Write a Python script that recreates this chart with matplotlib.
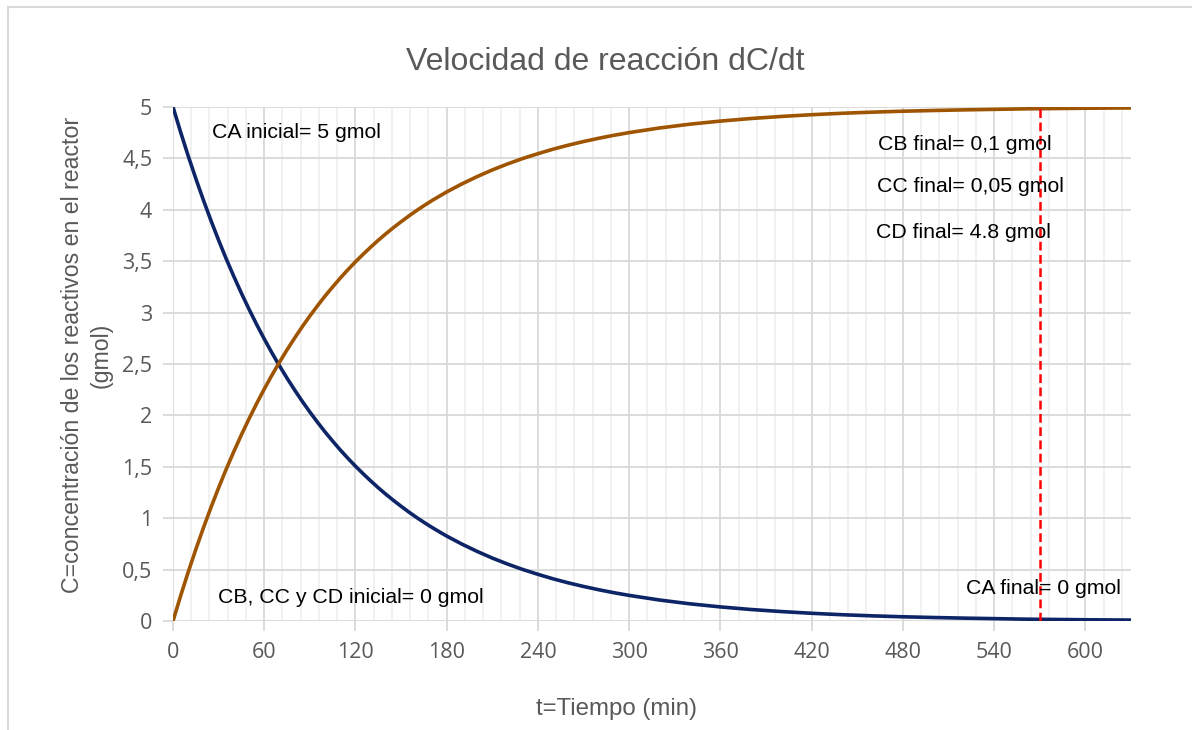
import matplotlib
matplotlib.use("Agg")
import matplotlib.pyplot as plt
from matplotlib.lines import Line2D
from matplotlib.ticker import MultipleLocator, FuncFormatter

# time (min) and concentrations
t_min = [0, 5, 10, 15, 20, 25, 30, 35, 40, 45, 50, 55, 60, 65, 70, 75, 80, 85,
         90, 95, 100, 105, 110, 115, 120, 125, 130, 135, 140, 145, 150, 155,
         160, 165, 170, 175, 180, 190, 200, 210, 220, 230, 240, 250, 260, 270,
         280, 290, 300, 320, 340, 360, 380, 400, 420, 440, 460, 480, 500, 520,
         540, 560, 580, 600, 630]
ca = [5.000, 4.756, 4.524, 4.304, 4.094, 3.894, 3.704, 3.523, 3.352, 3.188,
      3.033, 2.885, 2.744, 2.610, 2.483, 2.362, 2.247, 2.137, 2.033, 1.934,
      1.839, 1.750, 1.664, 1.583, 1.506, 1.433, 1.363, 1.296, 1.233, 1.173,
      1.116, 1.061, 1.009, 0.960, 0.913, 0.869, 0.826, 0.748, 0.677, 0.612,
      0.554, 0.501, 0.454, 0.410, 0.371, 0.336, 0.304, 0.275, 0.249, 0.204,
      0.167, 0.137, 0.112, 0.092, 0.075, 0.061, 0.050, 0.041, 0.034, 0.028,
      0.023, 0.018, 0.015, 0.012, 0.009]
cd = [0.000, 0.244, 0.476, 0.696, 0.906, 1.106, 1.296, 1.477, 1.648, 1.812,
      1.967, 2.115, 2.256, 2.390, 2.517, 2.638, 2.753, 2.863, 2.967, 3.066,
      3.161, 3.250, 3.336, 3.417, 3.494, 3.567, 3.637, 3.704, 3.767, 3.827,
      3.884, 3.939, 3.991, 4.040, 4.087, 4.131, 4.174, 4.252, 4.323, 4.388,
      4.446, 4.499, 4.546, 4.590, 4.629, 4.664, 4.696, 4.725, 4.751, 4.796,
      4.833, 4.863, 4.888, 4.908, 4.925, 4.939, 4.950, 4.959, 4.966, 4.972,
      4.977, 4.982, 4.985, 4.988, 4.991]
t_final = 570

annotations = [
    ("CA inicial= 5 gmol", 25.5, 4.75),
    ("CB final= 0,1 gmol", 463.5, 4.64),
    ("CC final= 0,05 gmol", 463, 4.23),
    ("CD final= 4.8 gmol", 462, 3.78),
    ("CA final= 0 gmol", 521.5, 0.32),
    ("CB, CC y CD inicial= 0 gmol", 29.5, 0.225),
]

GRAY = "#595959"
GRID = "#d9d9d9"
W, H = 1192, 730

fig = plt.figure(figsize=(W / 100, H / 100), dpi=100, facecolor="white")
ax = fig.add_axes([173 / W, 1 - 621 / H, (1131 - 173) / W, (621 - 107) / H])

ax.plot(t_min, ca, color="#0d2466", linewidth=2.6, zorder=3)
ax.plot(t_min, cd, color="#9e5400", linewidth=2.6, zorder=3)
ax.axvline(t_final, color="#ff0000", linestyle=(0, (3.5, 1.8)), linewidth=1.8, zorder=4)

ax.set_xlim(0, 630)
ax.set_ylim(0, 5)
ax.xaxis.set_major_locator(MultipleLocator(60))
ax.xaxis.set_minor_locator(MultipleLocator(12))
ax.yaxis.set_major_locator(MultipleLocator(0.5))
ax.yaxis.set_major_formatter(FuncFormatter(lambda v, p: f"{v:g}".replace(".", ",")))

ax.grid(True, which="major", color=GRID, linewidth=1.3)
ax.grid(True, which="minor", axis="x", color="#f0f0f0", linewidth=1.3)
ax.set_axisbelow(True)
for s in ax.spines.values():
    s.set_visible(False)
ax.tick_params(axis="both", which="major", color=GRID, width=1.3, length=7,
               labelcolor=GRAY, labelsize=15.5, pad=8)
ax.tick_params(axis="x", which="minor", length=0)
for lab in ax.get_xticklabels() + ax.get_yticklabels():
    lab.set_family("Open Sans")

for txt, x, y in annotations:
    ax.text(x, y, txt, fontsize=15.3, color="black", va="center", ha="left",
            family="Liberation Sans", zorder=5)

fig.text(605 / W, 1 - 62 / H, "Velocidad de reacción dC/dt", fontsize=23, color=GRAY,
         family="Liberation Sans", ha="center", va="center")
fig.text(617 / W, 1 - 709 / H, "t=Tiempo (min)", fontsize=17.3, color=GRAY,
         family="Liberation Sans", ha="center", va="center")
fig.text(87 / W, 1 - 355 / H, "C=concentración de los reactivos en el reactor\n(gmol)",
         fontsize=16.7, color=GRAY, family="Liberation Sans", ha="center", va="center",
         rotation=90, linespacing=1.3, multialignment="center")

# chart border (as in the Excel frame)
fig.add_artist(Line2D([8 / W, 1.0], [1 - 7 / H, 1 - 7 / H], color=GRID, linewidth=1.5,
                      transform=fig.transFigure))
fig.add_artist(Line2D([8 / W, 8 / W], [0, 1 - 7 / H], color=GRID, linewidth=1.5,
                      transform=fig.transFigure))

fig.savefig("out.png", dpi=100, facecolor="white")
